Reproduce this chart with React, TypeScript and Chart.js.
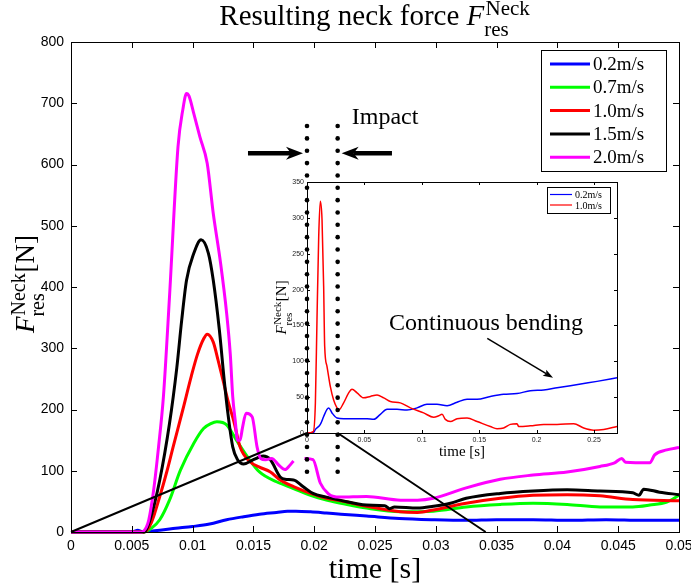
import React, { useEffect, useRef } from 'react';
import { Chart, registerables } from 'chart.js';

Chart.register(...registerables);

const CANVAS_W = 691;
const CANVAS_H = 585;

// ---------- main chart data ----------
const seriesLabels = ['0.2m/s', '0.7m/s', '1.0m/s', '1.5m/s', '2.0m/s'];
const seriesColors = ['#0000ff', '#00ff00', '#ff0000', '#000000', '#ff00ff'];

const time02 = [0, 0.005, 0.0055, 0.0058, 0.0073, 0.0086, 0.01, 0.0114, 0.0128, 0.0142, 0.0155, 0.0169, 0.0178, 0.0185, 0.0197, 0.021, 0.0222, 0.0243, 0.027, 0.0298, 0.0325, 0.035, 0.038, 0.041, 0.044, 0.047, 0.05];
const force02 = [0, 0, 3, 1, 3, 6, 9, 13, 20, 25, 29, 32, 34, 34, 33, 31, 29, 26, 22, 20, 19, 20, 20, 19, 20, 19, 19];

const time07 = [0, 0.006, 0.0066, 0.0073, 0.0081, 0.009, 0.0101, 0.0109, 0.0115, 0.012, 0.0128, 0.0136, 0.0145, 0.0155, 0.0169, 0.0183, 0.0197, 0.021, 0.0222, 0.0243, 0.0271, 0.0298, 0.0325, 0.0353, 0.038, 0.0408, 0.0435, 0.0462, 0.0476, 0.049, 0.05];
const force07 = [0, 0, 6, 20, 52, 101, 145, 169, 177, 180, 175, 150, 123, 98, 82, 71, 60, 52, 47, 39, 33, 34, 41, 45, 47, 45, 41, 41, 44, 49, 60];

const time10 = [0, 0.006, 0.0066, 0.0073, 0.0079, 0.0084, 0.0092, 0.0099, 0.0104, 0.0109, 0.0112, 0.0117, 0.0121, 0.0125, 0.0129, 0.0134, 0.0139, 0.0147, 0.0155, 0.0164, 0.0172, 0.0183, 0.0197, 0.021, 0.0222, 0.0243, 0.0271, 0.0285, 0.0298, 0.0325, 0.0353, 0.038, 0.0408, 0.0435, 0.0462, 0.05];
const force10 = [0, 0, 15, 58, 100, 139, 200, 255, 290, 315, 323, 310, 280, 248, 215, 180, 139, 115, 106, 98, 85, 74, 63, 55, 51, 42, 33, 32, 36, 47, 55, 60, 61, 59, 53, 51];

const time15 = [0, 0.006, 0.0065, 0.0073, 0.0081, 0.0087, 0.0091, 0.0095, 0.0101, 0.0107, 0.0113, 0.0117, 0.0122, 0.0126, 0.0129, 0.0133, 0.0137, 0.0142, 0.015, 0.0158, 0.0164, 0.0172, 0.0176, 0.0183, 0.0191, 0.0199, 0.021, 0.0221, 0.0243, 0.0258, 0.0262, 0.0266, 0.0285, 0.0298, 0.0312, 0.0325, 0.0353, 0.038, 0.0408, 0.0435, 0.0462, 0.0467, 0.0471, 0.0484, 0.05];
const force15 = [0, 0, 20, 85, 177, 268, 345, 411, 455, 477, 455, 411, 330, 248, 194, 139, 118, 111, 118, 124, 118, 90, 86, 85, 74, 63, 57, 52, 44, 43, 38, 41, 39, 42, 47, 55, 63, 67, 69, 67, 64, 60, 70, 65, 61];

const time20 = [0, 0.0058, 0.0062, 0.0064, 0.0068, 0.0072, 0.0076, 0.0081, 0.0088, 0.0092, 0.0095, 0.0097, 0.0101, 0.0106, 0.0112, 0.0117, 0.0123, 0.0128, 0.0131, 0.0133, 0.0135, 0.0137, 0.0139, 0.0141, 0.0144, 0.0149, 0.0153, 0.0156, 0.016, 0.0165, 0.0171, 0.0176, 0.018, 0.0183, 0.0187, 0.0192, 0.0199, 0.0205, 0.0212, 0.0216, 0.0221, 0.0243, 0.0271, 0.0285, 0.0298, 0.0325, 0.0353, 0.038, 0.0408, 0.0435, 0.0447, 0.0453, 0.0456, 0.0476, 0.048, 0.049, 0.05];
const force20 = [0, 0, 8, 20, 69, 139, 221, 384, 629, 690, 716, 712, 683, 645, 602, 520, 439, 357, 290, 221, 183, 150, 150, 170, 194, 188, 139, 120, 118, 120, 109, 102, 109, 116, null, 120, 118, 80, 62, 58, 57, 58, 52, 52, 55, 72, 86, 93, 98, 107, 113, 120, 114, 113, 126, 134, 138];

const mainTimes = [time02, time07, time10, time15, time20];
const mainForces = [force02, force07, force10, force15, force20];

const mainXMax = 0.05;
const mainXStep = 0.005;
const mainYMax = 800;
const mainYStep = 100;

// ---------- inset data ----------
const insetLabels = ['0.2m/s', '1.0m/s'];
const insetColors = ['#0000ff', '#ff0000'];

const insetTime02 = [0, 0.0058, 0.0073, 0.0116, 0.0145, 0.0174, 0.0189, 0.0218, 0.0261, 0.0319, 0.0436, 0.0523, 0.0581, 0.0639, 0.0697, 0.0784, 0.0871, 0.0958, 0.1045, 0.1132, 0.122, 0.1307, 0.1394, 0.1481, 0.1597, 0.1713, 0.1829, 0.1945, 0.2062, 0.2178, 0.2294, 0.241, 0.2526, 0.27];
const insetForce02 = [0, 1, 5, 12, 23, 33, 35, 28, 21, 20, 20, 20, 19, 26, 33, 33, 32, 35, 40, 40, 38, 43, 47, 47, 51, 54, 55, 59, 60, 63, 66, 69, 72, 77];

const insetTime10 = [0, 0.0055, 0.0073, 0.0087, 0.0102, 0.0116, 0.0131, 0.0145, 0.0154, 0.0174, 0.0203, 0.0232, 0.0261, 0.0276, 0.0319, 0.0363, 0.0392, 0.0436, 0.0494, 0.0552, 0.061, 0.0668, 0.0726, 0.0813, 0.09, 0.1016, 0.1103, 0.1147, 0.1176, 0.1205, 0.1249, 0.1307, 0.1394, 0.1481, 0.1597, 0.1655, 0.1713, 0.1771, 0.1829, 0.1844, 0.1945, 0.2062, 0.2178, 0.2323, 0.241, 0.2497, 0.2584, 0.27];
const insetForce10 = [0, 2, 42, 158, 274, 323, 297, 205, 121, 93, 65, 46, 35, 32, 42, 56, 61, 56, 49, 51, 53, 49, 44, 42, 35, 28, 22, 24, 26, 19, 16, 20, 21, 16, 9, 6, 7, 12, 13, 9, 10, 12, 12, 13, 7, 4, 5, 9];

const insetTimes = [insetTime02, insetTime10];
const insetForces = [insetForce02, insetForce10];

const insetXMax = 0.27;
const insetXStep = 0.05;
const insetYMax = 350;
const insetYStep = 50;

// annotation values (inset data units unless noted)
const impactWindow = [0, 0.0267];
const dotRange = [428, -54];
const dotCount = 29;
const impactArrowY = 390;
const impactArrowTails = [-0.0514, 0.074];
const impactText = { t: 0.039, f: 440, text: 'Impact' };
const bendingText = { t: 0.156, f: 153, text: 'Continuous bending' };
const bendingArrow = { t1: 0.157, f1: 132, t2: 0.2143, f2: 77 };
const connectorMainT = [0, 0.0341]; // main time where zoom connectors land

// ---------- layout ----------
const MAIN_AREA = { left: 71, top: 42, right: 679, bottom: 532 };
const MAIN_Y_W = 40;
const MAIN_X_H = 30;
const INSET_AREA = { left: 307, top: 182, right: 617, bottom: 433 };
const INSET_Y_W = 18;
const INSET_X_H = 12;

const SERIF = '"Liberation Serif", "Times New Roman", serif';
const SANS = '"Liberation Sans", Arial, Helvetica, sans-serif';

function fmtTick(v: number) {
  return String(Math.round(v * 1e6) / 1e6);
}

function toPoints(ts: number[], fs: (number | null)[]) {
  return ts.map((t, i) => ({ x: t, y: fs[i] }));
}

// draws  pre + F_res^Neck + post  with baseline y starting at x0; returns width
function mathLabel(ctx: CanvasRenderingContext2D, x0: number, y: number, size: number, pre: string, post: string, draw: boolean) {
  let x = x0;
  const scSize = Math.round(size * 0.74);
  ctx.textBaseline = 'alphabetic';
  ctx.textAlign = 'left';
  ctx.font = `${size}px ${SERIF}`;
  if (pre) {
    if (draw) ctx.fillText(pre, x, y);
    x += ctx.measureText(pre).width;
  }
  ctx.font = `italic ${size}px ${SERIF}`;
  if (draw) ctx.fillText('F', x, y);
  x += ctx.measureText('F').width + size * 0.04;
  ctx.font = `${scSize}px ${SERIF}`;
  const wSup = ctx.measureText('Neck').width;
  const wSub = ctx.measureText('res').width;
  if (draw) {
    ctx.fillText('Neck', x, y - size * 0.34);
    ctx.fillText('res', x - size * 0.04, y + size * 0.38);
  }
  x += Math.max(wSup, wSub) + size * 0.03;
  ctx.font = `${size}px ${SERIF}`;
  if (post) {
    if (draw) ctx.fillText(post, x, y);
    x += ctx.measureText(post).width;
  }
  return x - x0;
}

function drawBoxAndTicks(chart: any, len: number) {
  const { ctx, chartArea: a, scales } = chart;
  ctx.save();
  ctx.strokeStyle = '#000';
  ctx.lineWidth = 1;
  ctx.strokeRect(Math.round(a.left) + 0.5, Math.round(a.top) + 0.5, Math.round(a.right - a.left), Math.round(a.bottom - a.top));
  ctx.beginPath();
  scales.x.ticks.forEach((t: any) => {
    const px = Math.round(scales.x.getPixelForValue(t.value)) + 0.5;
    ctx.moveTo(px, a.bottom);
    ctx.lineTo(px, a.bottom - len);
    ctx.moveTo(px, a.top);
    ctx.lineTo(px, a.top + len);
  });
  scales.y.ticks.forEach((t: any) => {
    const py = Math.round(scales.y.getPixelForValue(t.value)) + 0.5;
    ctx.moveTo(a.left, py);
    ctx.lineTo(a.left + len, py);
    ctx.moveTo(a.right, py);
    ctx.lineTo(a.right - len, py);
  });
  ctx.stroke();
  ctx.restore();
}

function drawLegend(ctx: CanvasRenderingContext2D, right: number, top: number, w: number, labels: string[], colors: string[], rowH: number, firstRow: number, lineLen: number, lineW: number, fontSize: number, padL: number) {
  const h = firstRow * 2 + rowH * (labels.length - 1);
  const left = right - w;
  ctx.save();
  ctx.fillStyle = '#fff';
  ctx.fillRect(left, top, w, h);
  ctx.strokeStyle = '#000';
  ctx.lineWidth = 1;
  ctx.strokeRect(Math.round(left) + 0.5, Math.round(top) + 0.5, Math.round(w), Math.round(h));
  ctx.font = `${fontSize}px ${SERIF}`;
  ctx.textBaseline = 'middle';
  ctx.textAlign = 'left';
  labels.forEach((lab, i) => {
    const y = top + firstRow + i * rowH;
    ctx.strokeStyle = colors[i];
    ctx.lineWidth = lineW;
    ctx.beginPath();
    ctx.moveTo(left + padL, y);
    ctx.lineTo(left + padL + lineLen, y);
    ctx.stroke();
    ctx.fillStyle = '#000';
    ctx.fillText(lab, left + padL + lineLen + 3, y + 1);
  });
  ctx.restore();
}

function drawArrow(ctx: CanvasRenderingContext2D, x1: number, y1: number, x2: number, y2: number, lw: number, headLen: number, headHalf: number, notch: number) {
  const ang = Math.atan2(y2 - y1, x2 - x1);
  const cos = Math.cos(ang);
  const sin = Math.sin(ang);
  ctx.save();
  ctx.strokeStyle = '#000';
  ctx.fillStyle = '#000';
  ctx.lineWidth = lw;
  ctx.lineCap = 'butt';
  ctx.beginPath();
  ctx.moveTo(x1, y1);
  ctx.lineTo(x2 - cos * (headLen - notch), y2 - sin * (headLen - notch));
  ctx.stroke();
  const bx = x2 - cos * headLen;
  const by = y2 - sin * headLen;
  const nx = x2 - cos * (headLen - notch);
  const ny = y2 - sin * (headLen - notch);
  ctx.beginPath();
  ctx.moveTo(x2, y2);
  ctx.lineTo(bx - sin * headHalf, by + cos * headHalf);
  ctx.lineTo(nx, ny);
  ctx.lineTo(bx + sin * headHalf, by - cos * headHalf);
  ctx.closePath();
  ctx.fill();
  ctx.restore();
}

export default function App() {
  const mainRef = useRef<HTMLCanvasElement>(null);
  const insetRef = useRef<HTMLCanvasElement>(null);

  useEffect(() => {
    if (!mainRef.current || !insetRef.current) return;

    const mainDecor = {
      id: 'mainDecor',
      beforeDraw(chart: any) {
        const ctx = chart.ctx;
        ctx.save();
        ctx.fillStyle = '#fff';
        ctx.fillRect(0, 0, chart.width, chart.height);
        ctx.restore();
      },
      afterDraw(chart: any) {
        const { ctx, chartArea: a } = chart;
        drawBoxAndTicks(chart, 6);
        drawLegend(ctx, a.right - 13, a.top + 8, 125, seriesLabels, seriesColors, 23.3, 14, 40, 3, 19, 9);
        ctx.save();
        ctx.fillStyle = '#000';
        const cx = (a.left + a.right) / 2;
        // title
        const tw = mathLabel(ctx, 0, 0, 29, 'Resulting neck force ', '', false);
        mathLabel(ctx, cx - tw / 2, 25, 29, 'Resulting neck force ', '', true);
        // x label
        ctx.font = `30px ${SERIF}`;
        ctx.textAlign = 'center';
        ctx.textBaseline = 'alphabetic';
        ctx.fillText('time [s]', cx, 578);
        // y label
        const yw = mathLabel(ctx, 0, 0, 27, '', '[N]', false);
        ctx.translate(34, 284);
        ctx.rotate(-Math.PI / 2);
        mathLabel(ctx, -yw / 2, 0, 27, '', '[N]', true);
        ctx.restore();
      },
    };

    const mainChart = new Chart(mainRef.current, {
      type: 'line',
      data: {
        datasets: mainTimes.map((ts, i) => ({
          label: seriesLabels[i],
          data: toPoints(ts, mainForces[i]),
          borderColor: seriesColors[i],
          backgroundColor: seriesColors[i],
          borderWidth: 3,
          pointRadius: 0,
          fill: false,
          spanGaps: false,
          cubicInterpolationMode: 'monotone',
          clip: false,
          order: mainTimes.length - i,
        })),
      },
      options: {
        responsive: false,
        animation: false,
        events: [],
        layout: {
          padding: {
            left: MAIN_AREA.left - MAIN_Y_W,
            top: MAIN_AREA.top,
            right: CANVAS_W - MAIN_AREA.right,
            bottom: CANVAS_H - MAIN_AREA.bottom - MAIN_X_H,
          },
        },
        plugins: { legend: { display: false }, tooltip: { enabled: false }, title: { display: false } },
        scales: {
          x: {
            type: 'linear',
            min: 0,
            max: mainXMax,
            afterFit: (s: any) => { s.height = MAIN_X_H; s.paddingLeft = 0; s.paddingRight = 0; },
            grid: { display: false, drawTicks: false },
            border: { display: false },
            ticks: { stepSize: mainXStep, autoSkip: false, maxRotation: 0, padding: 6, color: '#000', font: { family: SANS, size: 14 }, callback: (v: any) => fmtTick(Number(v)) },
          },
          y: {
            type: 'linear',
            min: 0,
            max: mainYMax,
            afterFit: (s: any) => { s.width = MAIN_Y_W; s.paddingTop = 0; s.paddingBottom = 0; },
            grid: { display: false, drawTicks: false },
            border: { display: false },
            ticks: { stepSize: mainYStep, autoSkip: false, padding: 7, color: '#000', font: { family: SANS, size: 14 }, callback: (v: any) => fmtTick(Number(v)) },
          },
        },
      },
      plugins: [mainDecor],
    } as any);

    const insetDecor = {
      id: 'insetDecor',
      beforeDatasetsDraw(chart: any) {
        const { ctx, chartArea: a } = chart;
        ctx.save();
        ctx.fillStyle = '#fff';
        ctx.fillRect(a.left, a.top, a.right - a.left, a.bottom - a.top);
        ctx.restore();
      },
      afterDraw(chart: any) {
        const { ctx, chartArea: a, scales } = chart;
        const sx = scales.x;
        const sy = scales.y;
        drawBoxAndTicks(chart, 3);
        drawLegend(ctx, a.right - 7, a.top + 5, 63, insetLabels, insetColors, 10.5, 7.5, 22, 1.2, 10, 3);
        ctx.save();
        ctx.fillStyle = '#000';
        const cx = (a.left + a.right) / 2;
        ctx.font = `15px ${SERIF}`;
        ctx.textAlign = 'center';
        ctx.textBaseline = 'alphabetic';
        ctx.fillText('time [s]', cx, 456);
        const yw = mathLabel(ctx, 0, 0, 15, '', '[N]', false);
        ctx.translate(a.left - 21, (a.top + a.bottom) / 2);
        ctx.rotate(-Math.PI / 2);
        mathLabel(ctx, -yw / 2, 0, 15, '', '[N]', true);
        ctx.restore();

        // zoom connectors between main axes and inset
        const mx = mainChart.scales.x;
        const my = mainChart.scales.y;
        ctx.save();
        ctx.strokeStyle = '#000';
        ctx.lineWidth = 2;
        ctx.beginPath();
        ctx.moveTo(mx.getPixelForValue(connectorMainT[0]), my.getPixelForValue(0));
        ctx.lineTo(sx.getPixelForValue(impactWindow[0]), sy.getPixelForValue(0));
        ctx.moveTo(sx.getPixelForValue(impactWindow[1]), sy.getPixelForValue(0));
        ctx.lineTo(mx.getPixelForValue(connectorMainT[1]), my.getPixelForValue(0));
        ctx.stroke();
        ctx.restore();

        // dotted impact lines
        ctx.save();
        ctx.fillStyle = '#000';
        impactWindow.forEach((t) => {
          const px = sx.getPixelForValue(t);
          const y0 = sy.getPixelForValue(dotRange[0]);
          const y1 = sy.getPixelForValue(dotRange[1]);
          for (let k = 0; k < dotCount; k++) {
            const py = y0 + ((y1 - y0) * k) / (dotCount - 1);
            ctx.beginPath();
            ctx.arc(px, py, 2.3, 0, Math.PI * 2);
            ctx.fill();
          }
        });
        ctx.restore();

        // impact arrows
        const ay = sy.getPixelForValue(impactArrowY);
        drawArrow(ctx, sx.getPixelForValue(impactArrowTails[0]), ay, sx.getPixelForValue(impactWindow[0]) - 4, ay, 4.5, 17, 6.5, 5);
        drawArrow(ctx, sx.getPixelForValue(impactArrowTails[1]), ay, sx.getPixelForValue(impactWindow[1]) + 4, ay, 4.5, 17, 6.5, 5);

        ctx.save();
        ctx.fillStyle = '#000';
        ctx.font = `24px ${SERIF}`;
        ctx.textAlign = 'left';
        ctx.textBaseline = 'middle';
        ctx.fillText(impactText.text, sx.getPixelForValue(impactText.t), sy.getPixelForValue(impactText.f));
        ctx.font = `24px ${SERIF}`;
        ctx.textAlign = 'center';
        ctx.fillText(bendingText.text, sx.getPixelForValue(bendingText.t), sy.getPixelForValue(bendingText.f));
        ctx.restore();
        drawArrow(ctx, sx.getPixelForValue(bendingArrow.t1), sy.getPixelForValue(bendingArrow.f1), sx.getPixelForValue(bendingArrow.t2), sy.getPixelForValue(bendingArrow.f2), 1.5, 10, 3.5, 2);
      },
    };

    const insetChart = new Chart(insetRef.current, {
      type: 'line',
      data: {
        datasets: insetTimes.map((ts, i) => ({
          label: insetLabels[i],
          data: toPoints(ts, insetForces[i]),
          borderColor: insetColors[i],
          backgroundColor: insetColors[i],
          borderWidth: 1.5,
          pointRadius: 0,
          fill: false,
          cubicInterpolationMode: 'monotone',
          clip: false,
          order: insetTimes.length - i,
        })),
      },
      options: {
        responsive: false,
        animation: false,
        events: [],
        layout: {
          padding: {
            left: INSET_AREA.left - INSET_Y_W,
            top: INSET_AREA.top,
            right: CANVAS_W - INSET_AREA.right,
            bottom: CANVAS_H - INSET_AREA.bottom - INSET_X_H,
          },
        },
        plugins: { legend: { display: false }, tooltip: { enabled: false }, title: { display: false } },
        scales: {
          x: {
            type: 'linear',
            min: 0,
            max: insetXMax,
            afterFit: (s: any) => { s.height = INSET_X_H; s.paddingLeft = 0; s.paddingRight = 0; },
            grid: { display: false, drawTicks: false },
            border: { display: false },
            ticks: { stepSize: insetXStep, includeBounds: false, autoSkip: false, maxRotation: 0, padding: 3, color: '#222', font: { family: SANS, size: 7 }, callback: (v: any) => fmtTick(Number(v)) },
          },
          y: {
            type: 'linear',
            min: 0,
            max: insetYMax,
            afterFit: (s: any) => { s.width = INSET_Y_W; s.paddingTop = 0; s.paddingBottom = 0; },
            grid: { display: false, drawTicks: false },
            border: { display: false },
            ticks: { stepSize: insetYStep, autoSkip: false, padding: 3, color: '#222', font: { family: SANS, size: 7 }, callback: (v: any) => fmtTick(Number(v)) },
          },
        },
      },
      plugins: [insetDecor],
    } as any);

    return () => {
      insetChart.destroy();
      mainChart.destroy();
    };
  }, []);

  return (
    <div style={{ position: 'fixed', left: 0, top: 0, width: CANVAS_W, height: CANVAS_H, background: '#fff' }}>
      <canvas ref={mainRef} width={CANVAS_W} height={CANVAS_H} style={{ position: 'absolute', left: 0, top: 0, width: CANVAS_W, height: CANVAS_H }} />
      <canvas ref={insetRef} width={CANVAS_W} height={CANVAS_H} style={{ position: 'absolute', left: 0, top: 0, width: CANVAS_W, height: CANVAS_H }} />
    </div>
  );
}
